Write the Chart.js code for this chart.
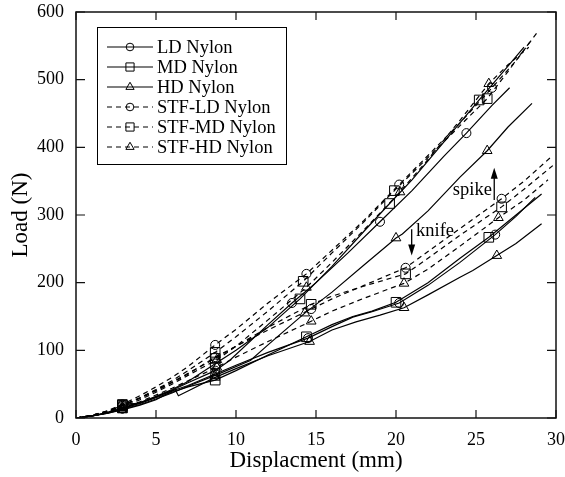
<!DOCTYPE html>
<html>
<head>
<meta charset="utf-8">
<script src="https://cdn.jsdelivr.net/npm/chart.js@4.4.0/dist/chart.umd.min.js"></script>
<style>
  body { margin: 0; background: #fff; }
</style>
</head>
<body>
<canvas id="chart" width="565" height="477"></canvas>
<script>
// load-displacement curves, spike (upper group) and knife (lower group)

const xTicks = [0, 5, 10, 15, 20, 25, 30];
const yTicks = [0, 100, 200, 300, 400, 500, 600];

// spike
const xLdSpike = [0, 1, 2, 2.9, 4, 5, 6, 7, 8.7, 9.6, 12, 13.5, 15, 17, 19, 21, 23, 24.4, 26, 27.1];
const yLdSpike = [0, 3, 8, 14, 22, 31, 41, 52, 70, 85, 138, 170, 200, 244, 290, 336, 387, 421, 462, 488];
const mLdSpike = [2.9, 8.7, 13.5, 19, 24.4];

const xMdSpike = [0, 1, 2, 2.9, 4, 5, 6, 7, 8.7, 10, 12, 14, 16, 18, 19.6, 21, 23, 25.2, 27, 28];
const yMdSpike = [0, 3, 8, 15, 23, 32, 42, 54, 80, 100, 134, 176, 224, 276, 317, 352, 408, 470, 520, 548];
const mMdSpike = [2.9, 8.7, 14, 19.6, 25.2];

const xHdSpike = [0, 1, 2, 2.9, 4, 5, 6, 7, 8.7, 10.9, 12, 14.3, 16, 18, 19.6, 20, 20.4, 22, 24, 25.7, 27, 28.5];
const yHdSpike = [0, 3, 7, 13, 20, 28, 37, 47, 63, 85, 108, 155, 186, 226, 258, 266, 272, 306, 356, 395, 430, 465];
const mHdSpike = [2.9, 8.7, 14.3, 20, 25.7];

const xStfLdSpike = [0, 1, 2, 2.9, 4, 5, 6, 7, 8.7, 10, 12, 14.4, 16, 18, 20.2, 22, 24, 26, 27.5, 28.9];
const yStfLdSpike = [0, 4, 11, 20, 33, 46, 60, 76, 108, 131, 170, 213, 248, 292, 345, 388, 436, 488, 528, 572];
const mStfLdSpike = [2.9, 8.7, 14.4, 20.2, 26];

const xStfMdSpike = [0, 1, 2, 2.9, 4, 5, 6, 7, 8.7, 10, 12, 14.2, 16, 18, 19.9, 22, 24, 25.7, 27, 28.5];
const yStfMdSpike = [0, 4, 10, 18, 30, 42, 55, 70, 97, 120, 158, 202, 244, 290, 336, 385, 432, 472, 512, 560];
const mStfMdSpike = [2.9, 8.7, 14.2, 19.9, 25.7];

const xStfHdSpike = [0, 1, 2, 2.9, 4, 5, 6, 7, 8.8, 10, 12, 14.4, 16, 18, 20.25, 22, 24, 25.8, 27, 28.3];
const yStfHdSpike = [0, 3, 9, 16, 27, 38, 50, 63, 86, 106, 145, 193, 230, 278, 334, 382, 440, 494, 522, 548];
const mStfHdSpike = [2.9, 8.8, 14.4, 20.25, 25.8];

// knife
const xLdKnife = [0, 1, 2, 2.9, 4, 5, 6, 6.5, 7, 8.7, 10, 12, 14.5, 16, 17.3, 18.5, 20.2, 22, 24, 26.2, 27.5, 28.7];
const yLdKnife = [0, 3, 8, 14, 22, 31, 40, 44, 48, 65, 78, 97, 118, 135, 149, 157, 170, 196, 230, 271, 298, 326];
const mLdKnife = [2.9, 8.7, 14.5, 20.2, 26.2];

const xMdKnife = [0, 1, 2, 2.9, 4, 5, 6, 7, 8.7, 10, 12, 14.4, 16, 17.3, 18.5, 20, 22, 24, 25.8, 27.5, 29.1];
const yMdKnife = [0, 3, 8, 20, 22, 30, 38, 46, 56, 70, 93, 120, 138, 150, 158, 171, 200, 236, 267, 300, 331];
const mMdKnife = [2.9, 8.7, 14.4, 20, 25.8];

const xHdKnife = [0, 1, 2, 2.9, 4, 5, 6.2, 6.4, 7, 8.7, 10, 12, 14.6, 16, 17.5, 19, 20.5, 22, 24, 24.8, 26.3, 27.5, 29.1];
const yHdKnife = [0, 3, 7, 12, 19, 27, 42, 33, 40, 60, 73, 92, 113, 130, 142, 152, 163, 182, 208, 218, 240, 258, 287];
const mHdKnife = [2.9, 8.7, 14.6, 20.5, 26.3];

const xStfLdKnife = [0, 1, 2, 2.9, 4, 5, 6, 7, 8.7, 10, 12, 14.7, 16, 18, 20.6, 22, 24, 26.6, 28, 29.8];
const yStfLdKnife = [0, 4, 10, 18, 29, 40, 52, 65, 90, 106, 130, 161, 176, 196, 222, 246, 280, 324, 350, 388];
const mStfLdKnife = [2.9, 8.7, 14.7, 20.6, 26.6];

const xStfMdKnife = [0, 1, 2, 2.9, 4, 5, 6, 7, 8.7, 10, 12, 14.7, 16, 18, 20.6, 22, 24, 26.6, 28, 29.8];
const yStfMdKnife = [0, 4, 10, 19, 30, 41, 53, 66, 88, 106, 134, 168, 180, 195, 213, 236, 270, 312, 338, 373];
const mStfMdKnife = [2.9, 8.7, 14.7, 20.6, 26.6];

const xStfHdKnife = [0, 1, 2, 2.9, 4, 5, 6, 7, 8.8, 10, 12, 14.7, 16, 18, 20.5, 22, 24, 26.4, 28, 29.5];
const yStfHdKnife = [0, 3, 8, 15, 24, 34, 44, 55, 75, 90, 113, 143, 158, 177, 199, 220, 254, 296, 322, 352];
const mStfHdKnife = [2.9, 8.8, 14.7, 20.5, 26.4];

const legendNames = ["LD Nylon", "MD Nylon", "HD Nylon", "STF-LD Nylon", "STF-MD Nylon", "STF-HD Nylon"];

const SERIF = "'Liberation Serif', 'Times New Roman', serif";
const DASH = [5, 4];
const SIZES = { circle: 4.5, rect: 6.8, triangle: 5.6 };

function makeSet(xs, ys, marks, style, dashed) {
    const r = SIZES[style];
    return {
        data: xs.map((x, i) => ({ x, y: ys[i] })),
        borderColor: "#000",
        borderWidth: 1.2,
        borderDash: dashed ? DASH : [],
        tension: 0,
        fill: false,
        pointStyle: style,
        pointRadius: (ctx) => marks.includes(ctx.raw.x) ? r : 0,
        pointHoverRadius: (ctx) => marks.includes(ctx.raw.x) ? r : 0,
        pointBorderColor: "#000",
        pointBorderWidth: 1,
        pointBackgroundColor: "rgba(0,0,0,0)",
    };
}

const datasets = [
    makeSet(xLdSpike, yLdSpike, mLdSpike, "circle", false),
    makeSet(xMdSpike, yMdSpike, mMdSpike, "rect", false),
    makeSet(xHdSpike, yHdSpike, mHdSpike, "triangle", false),
    makeSet(xStfLdSpike, yStfLdSpike, mStfLdSpike, "circle", true),
    makeSet(xStfMdSpike, yStfMdSpike, mStfMdSpike, "rect", true),
    makeSet(xStfHdSpike, yStfHdSpike, mStfHdSpike, "triangle", true),
    makeSet(xLdKnife, yLdKnife, mLdKnife, "circle", false),
    makeSet(xMdKnife, yMdKnife, mMdKnife, "rect", false),
    makeSet(xHdKnife, yHdKnife, mHdKnife, "triangle", false),
    makeSet(xStfLdKnife, yStfLdKnife, mStfLdKnife, "circle", true),
    makeSet(xStfMdKnife, yStfMdKnife, mStfMdKnife, "rect", true),
    makeSet(xStfHdKnife, yStfHdKnife, mStfHdKnife, "triangle", true),
];

// frame with inward ticks on all four sides
const framePlugin = {
    id: "frame",
    afterDatasetsDraw(chart) {
        const { ctx, chartArea: a, scales } = chart;
        ctx.save();
        ctx.strokeStyle = "#111";
        ctx.lineWidth = 1.5;
        ctx.strokeRect(a.left, a.top, a.right - a.left, a.bottom - a.top);
        ctx.lineWidth = 1.2;
        ctx.beginPath();
        xTicks.forEach((v) => {
            const px = scales.x.getPixelForValue(v);
            ctx.moveTo(px, a.bottom); ctx.lineTo(px, a.bottom - 8);
            ctx.moveTo(px, a.top); ctx.lineTo(px, a.top + 8);
        });
        yTicks.forEach((v) => {
            const py = scales.y.getPixelForValue(v);
            ctx.moveTo(a.left, py); ctx.lineTo(a.left + 9, py);
            ctx.moveTo(a.right, py); ctx.lineTo(a.right - 9, py);
        });
        ctx.stroke();
        ctx.restore();
    },
    afterDraw(chart) {
        const { ctx, scales } = chart;
        const X = (v) => scales.x.getPixelForValue(v);
        const Y = (v) => scales.y.getPixelForValue(v);
        ctx.save();

        // legend box
        ctx.strokeStyle = "#000";
        ctx.lineWidth = 1;
        ctx.strokeRect(97.5, 27.5, 189, 137);
        ctx.font = "18.5px " + SERIF;
        ctx.fillStyle = "#000";
        ctx.textBaseline = "middle";
        ctx.textAlign = "left";
        legendNames.forEach((name, i) => {
            const ds = chart.data.datasets[i];
            const y = 47 + i * 20;
            ctx.beginPath();
            ctx.setLineDash(i >= 3 ? DASH : []);
            ctx.lineWidth = 1.2;
            ctx.moveTo(107, y); ctx.lineTo(153, y);
            ctx.stroke();
            ctx.setLineDash([]);
            ctx.lineWidth = 1;
            ctx.fillStyle = "rgba(0,0,0,0)";
            Chart.helpers.drawPoint(ctx, { pointStyle: ds.pointStyle, radius: SIZES[ds.pointStyle] * 0.85, rotation: 0, borderWidth: 1 }, 130, y);
            ctx.fillStyle = "#000";
            ctx.fillText(name, 157, y + 1);
        });

        // annotations
        ctx.font = "18.5px " + SERIF;
        ctx.textAlign = "left";
        ctx.fillText("spike", X(23.55), Y(336));
        ctx.fillText("knife", X(21.25), Y(276));
        const arrow = (x, y0, y1) => {
            const px = X(x), p0 = Y(y0), p1 = Y(y1);
            const dir = p1 < p0 ? 1 : -1;
            ctx.beginPath();
            ctx.lineWidth = 1.3;
            ctx.moveTo(px, p0); ctx.lineTo(px, p1 + dir * 6);
            ctx.stroke();
            ctx.beginPath();
            ctx.moveTo(px, p1);
            ctx.lineTo(px - 3.5, p1 + dir * 11);
            ctx.lineTo(px + 3.5, p1 + dir * 11);
            ctx.closePath();
            ctx.fill();
        };
        arrow(26.14, 322, 370);
        arrow(20.98, 279, 240);
        ctx.restore();
    },
};

new Chart(document.getElementById("chart"), {
    type: "line",
    data: { datasets },
    options: {
        responsive: false,
        animation: false,
        devicePixelRatio: 1,
        layout: { padding: { left: 0, right: 9, top: 12, bottom: 0 } },
        plugins: { legend: { display: false }, tooltip: { enabled: false } },
        scales: {
            x: {
                type: "linear",
                min: 0,
                max: 30,
                afterBuildTicks: (s) => { s.ticks = xTicks.map((v) => ({ value: v })); },
                afterFit: (s) => { s.height = 59; s.paddingLeft = 0; s.paddingRight = 0; },
                grid: { display: false, drawTicks: false },
                border: { display: false },
                ticks: { color: "#000", padding: 11, maxRotation: 0, font: { family: SERIF, size: 18 } },
                title: { display: true, text: "Displacment (mm)", color: "#000", padding: { top: 0, bottom: 2 }, font: { family: SERIF, size: 23 } },
            },
            y: {
                min: 0,
                max: 600,
                afterBuildTicks: (s) => { s.ticks = yTicks.map((v) => ({ value: v })); },
                afterFit: (s) => { s.width = 76; s.paddingTop = 0; s.paddingBottom = 0; },
                grid: { display: false, drawTicks: false },
                border: { display: false },
                ticks: { color: "#000", padding: 12, font: { family: SERIF, size: 18 } },
                title: { display: true, text: "Load (N)", color: "#000", padding: { top: 7, bottom: 0 }, font: { family: SERIF, size: 23 } },
            },
        },
    },
    plugins: [framePlugin],
});
</script>
</body>
</html>
